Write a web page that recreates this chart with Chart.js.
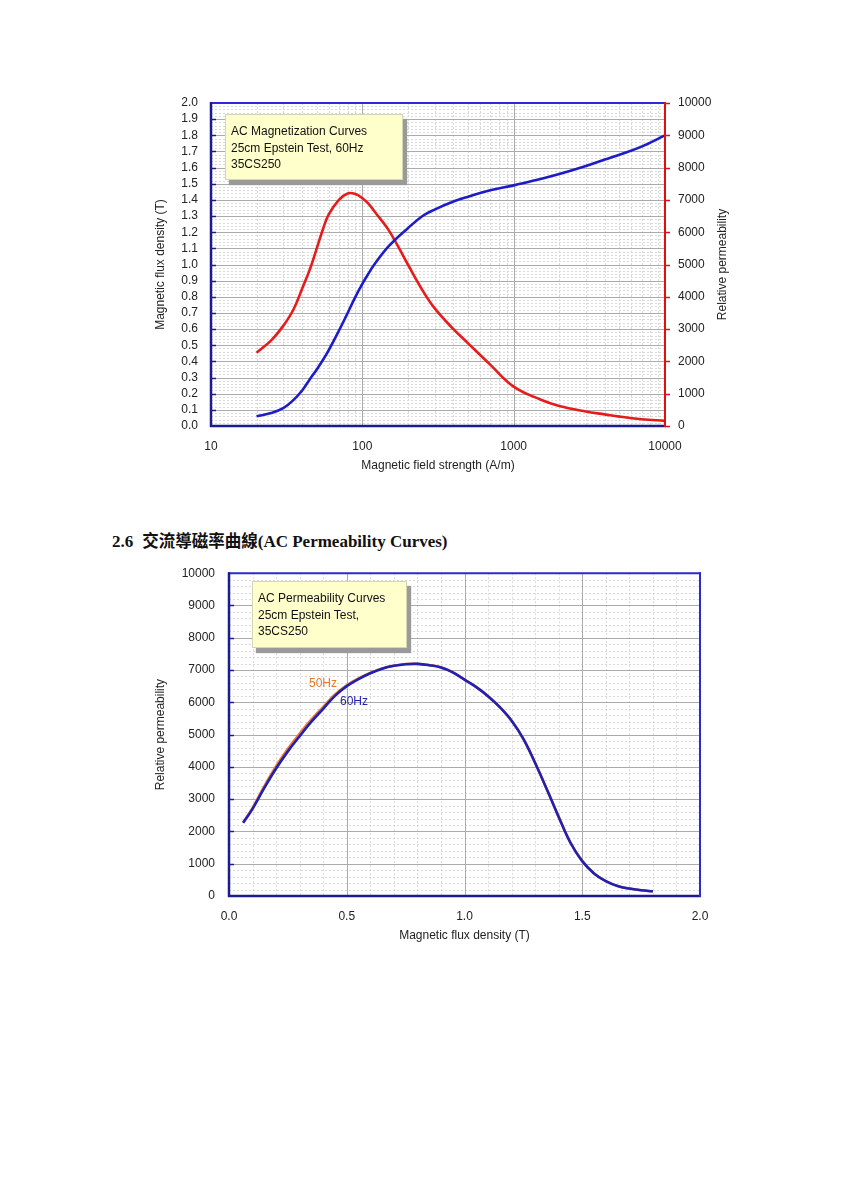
<!DOCTYPE html>
<html>
<head>
<meta charset="utf-8">
<script src="https://cdn.jsdelivr.net/npm/chart.js@4.4.1/dist/chart.umd.min.js"></script>
<style>
    body { margin: 0; background: #fff; width: 849px; height: 1200px; position: relative; overflow: hidden;
           font-family: "Liberation Sans", Arial, sans-serif; }
    canvas { position: absolute; }
    .note { position: absolute; background: #ffffcc; border: 1px solid #d6d6b4; box-shadow: 4px 5px 1px #9a9a9a;
            font-size: 12px; line-height: 16.5px; color: #111; padding: 8px 5px; box-sizing: border-box; }
    .tag { position: absolute; font-size: 12px; }
    .heading { position: absolute; left: 112px; top: 528px; font-size: 17px; font-weight: bold; color: #111;
               font-family: "Liberation Serif", "Times New Roman", serif; white-space: nowrap; }
    .heading .cjk { font-family: "Noto Sans CJK TC", sans-serif; margin-left: 9px; font-size: 16.5px; }
</style>
</head>
<body>
<canvas id="chartMag" width="620" height="400" style="left:140px; top:90px;"></canvas>
<div class="note" style="left:225px; top:114px; width:178px; height:66px;">AC Magnetization Curves<br>25cm Epstein Test, 60Hz<br>35CS250</div>

<div class="heading">2.6<span class="cjk">交流導磁率曲線</span>(AC Permeability Curves)</div>

<canvas id="chartPerm" width="620" height="400" style="left:140px; top:560px;"></canvas>
<div class="note" style="left:252px; top:581px; width:155px; height:67px;">AC Permeability Curves<br>25cm Epstein Test,<br>35CS250</div>
<div class="tag" style="left:309px; top:676px; color:#e8782c;">50Hz</div>
<div class="tag" style="left:340px; top:694px; color:#2424a8;">60Hz</div>

<script>
// --- AC magnetization curves (60Hz) ---
const fieldH = [20, 25, 30, 35, 40, 45, 50, 55, 60, 70, 80, 90, 100, 110, 120, 150, 200, 250, 300,
                400, 500, 700, 1000, 1500, 2000, 3000, 4000, 5000, 7000, 10000];
const fluxB = [0.06, 0.08, 0.11, 0.16, 0.22, 0.29, 0.35, 0.41, 0.47, 0.59, 0.70, 0.80, 0.88, 0.945, 1.00, 1.115, 1.225, 1.30, 1.34,
               1.39, 1.42, 1.46, 1.49, 1.53, 1.56, 1.61, 1.65, 1.68, 1.73, 1.80];
const permMu = [2270, 2650, 3100, 3600, 4250, 4850, 5500, 6100, 6550, 7000, 7200, 7180, 7050, 6880, 6650, 6050, 5000, 4200, 3650,
                3000, 2560, 1900, 1220, 820, 620, 450, 360, 290, 210, 160];

// --- AC permeability curves ---
const fluxAxis = [0.06, 0.10, 0.15, 0.20, 0.25, 0.30, 0.35, 0.40, 0.45, 0.50, 0.55, 0.60, 0.65, 0.70, 0.75, 0.80, 0.85, 0.90,
                  0.95, 1.00, 1.05, 1.10, 1.15, 1.20, 1.25, 1.30, 1.35, 1.40, 1.45, 1.50, 1.55, 1.60, 1.65, 1.70, 1.75, 1.80];
const perm60 = [2270, 2700, 3350, 3950, 4480, 4950, 5400, 5800, 6200, 6500, 6720, 6900, 7040, 7130, 7180, 7190, 7150, 7080,
                6930, 6700, 6470, 6190, 5850, 5430, 4870, 4120, 3300, 2450, 1650, 1080, 700, 460, 310, 230, 180, 145];
const perm50 = [2270, 2730, 3400, 4020, 4560, 5030, 5470, 5860, 6240, 6530, 6740, 6910, 7050, 7135, 7185, 7195, 7155, 7085,
                6935, 6705, 6475, 6190, 5850, 5430, 4870, 4120, 3300, 2450, 1650, 1080, 700, 460, 310, 230, 180, 145];

const decadeTicks = [10, 100, 1000, 10000];
const fontFamily = '"Liberation Sans", Arial, sans-serif';
const tickFont = { family: fontFamily, size: 12 };
const titleFont = { family: fontFamily, size: 12 };

function range(from, to, step) {
    const out = [];
    for (let i = 0; from + i * step <= to + step / 1000; i++) out.push(+(from + i * step).toFixed(6));
    return out;
}

// invisible tick marks keep the label gap without widening the top padding
const hiddenTicks = { display: true, drawOnChartArea: false, drawTicks: true, tickLength: 8, tickColor: 'rgba(0,0,0,0)' };

// grid, frame and side marks, drawn through the chart's own scales
const paperPlugin = {
    id: 'paper',
    beforeDatasetsDraw(chart, args, o) {
        const { ctx, chartArea: a, scales } = chart;
        const xs = scales.x, ys = scales[o.gridAxis];
        const vline = v => { const p = Math.round(xs.getPixelForValue(v)) + 0.5; ctx.beginPath(); ctx.moveTo(p, a.top); ctx.lineTo(p, a.bottom); ctx.stroke(); };
        const hline = v => { const p = Math.round(ys.getPixelForValue(v)) + 0.5; ctx.beginPath(); ctx.moveTo(a.left, p); ctx.lineTo(a.right, p); ctx.stroke(); };
        ctx.save();
        ctx.lineWidth = 1;
        ctx.strokeStyle = '#d9d9d9';
        ctx.setLineDash([2, 2]);
        o.xMinor.forEach(vline);
        o.yMinor.forEach(hline);
        ctx.setLineDash([]);
        ctx.strokeStyle = '#ababab';
        o.xMajor.forEach(vline);
        o.yMajor.forEach(hline);
        ctx.restore();
    },
    afterDatasetsDraw(chart, args, o) {
        const { ctx, chartArea: a, scales } = chart;
        const ys = scales[o.gridAxis];
        const seg = (x1, y1, x2, y2, c, w) => { ctx.strokeStyle = c; ctx.lineWidth = w; ctx.beginPath(); ctx.moveTo(x1, y1); ctx.lineTo(x2, y2); ctx.stroke(); };
        ctx.save();
        seg(a.left - 1, a.top, a.right + 1, a.top, o.topColor, 2);
        seg(a.left - 1, a.bottom, a.right + 1, a.bottom, o.bottomColor, 2.5);
        seg(a.left, a.top - 1, a.left, a.bottom + 1, o.leftColor, 2.5);
        seg(a.right, a.top - 1, a.right, a.bottom + 1, o.rightColor, 2);
        o.yMajor.forEach(v => {
            const p = Math.round(ys.getPixelForValue(v)) + 0.5;
            seg(a.left, p, a.left + 5, p, o.leftColor, 1.5);
        });
        if (o.rightTicks) {
            const rs = scales.y2;
            o.rightTicks.forEach(v => {
                const p = Math.round(rs.getPixelForValue(v)) + 0.5;
                seg(a.right, p, a.right + 5, p, o.rightColor, 1.5);
            });
        }
        if (o.rightTitle) {
            ctx.translate(a.right + 58, (a.top + a.bottom) / 2);
            ctx.rotate(-Math.PI / 2);
            ctx.font = '12px ' + fontFamily;
            ctx.fillStyle = '#222';
            ctx.textAlign = 'center';
            ctx.textBaseline = 'middle';
            ctx.fillText(o.rightTitle, 0, 0);
        }
        ctx.restore();
    }
};

const xMinorLog = [];
[10, 100, 1000].forEach(d => { for (let m = 2; m <= 9; m++) xMinorLog.push(d * m); });

const lineStyle = { borderWidth: 2.6, pointRadius: 0, tension: 0.4, clip: false };

new Chart(document.getElementById('chartMag'), {
    type: 'line',
    data: {
        datasets: [
            Object.assign({
                label: 'Magnetic flux density',
                data: fieldH.map((h, i) => ({ x: h, y: fluxB[i] })),
                yAxisID: 'y',
                borderColor: '#1c1cc8'
            }, lineStyle),
            Object.assign({
                label: 'Relative permeability',
                data: fieldH.map((h, i) => ({ x: h, y: permMu[i] })),
                yAxisID: 'y2',
                borderColor: '#e41c1c'
            }, lineStyle)
        ]
    },
    options: {
        responsive: false,
        animation: false,
        layout: { padding: { top: 13, left: 0, right: 0, bottom: 0 } },
        plugins: {
            legend: { display: false },
            tooltip: { enabled: false },
            paper: {
                gridAxis: 'y',
                xMajor: [100, 1000], xMinor: xMinorLog,
                yMajor: range(0.1, 1.9, 0.1), yMinor: range(0.02, 1.98, 0.02),
                topColor: '#2a2ae0', bottomColor: '#1c1c90', leftColor: '#1c1c90', rightColor: '#e01010',
                rightTicks: range(0, 10000, 1000),
                rightTitle: 'Relative permeability'
            }
        },
        scales: {
            x: {
                type: 'logarithmic',
                min: 10, max: 10000,
                afterBuildTicks: s => { s.ticks = decadeTicks.map(v => ({ value: v })); },
                afterFit: s => { s.height = 64; },
                grid: hiddenTicks,
                border: { display: false },
                ticks: { font: tickFont, color: '#222', padding: 5, maxRotation: 0, autoSkip: false, callback: v => String(v) },
                title: { display: true, text: 'Magnetic field strength (A/m)', font: titleFont, color: '#222', padding: { bottom: 17 } }
            },
            y: {
                position: 'left',
                min: 0, max: 2.0,
                afterFit: s => { s.width = 71; },
                grid: hiddenTicks,
                border: { display: false },
                ticks: { stepSize: 0.1, autoSkip: false, font: tickFont, color: '#222', padding: 5, callback: v => v.toFixed(1) },
                title: { display: true, text: 'Magnetic flux density (T)', font: titleFont, color: '#222', padding: { top: 13 } }
            },
            y2: {
                position: 'right',
                min: 0, max: 10000,
                afterFit: s => { s.width = 95; },
                grid: hiddenTicks,
                border: { display: false },
                ticks: { stepSize: 1000, autoSkip: false, font: tickFont, color: '#222', padding: 5, callback: v => String(v) }
            }
        }
    },
    plugins: [paperPlugin]
});

new Chart(document.getElementById('chartPerm'), {
    type: 'line',
    data: {
        datasets: [
            Object.assign({
                label: '50Hz',
                data: fluxAxis.map((b, i) => ({ x: b, y: perm50[i] })),
                borderColor: '#ec7a30',
                order: 2
            }, lineStyle),
            Object.assign({
                label: '60Hz',
                data: fluxAxis.map((b, i) => ({ x: b, y: perm60[i] })),
                borderColor: '#2020b4',
                order: 1
            }, lineStyle)
        ]
    },
    options: {
        responsive: false,
        animation: false,
        layout: { padding: { top: 13, left: 0, right: 60, bottom: 0 } },
        plugins: {
            legend: { display: false },
            tooltip: { enabled: false },
            paper: {
                gridAxis: 'y',
                xMajor: [0.5, 1.0, 1.5], xMinor: range(0.1, 1.9, 0.1),
                yMajor: range(1000, 9000, 1000), yMinor: range(200, 9800, 200),
                topColor: '#2a2ad0', bottomColor: '#1c1c90', leftColor: '#1c1c90', rightColor: '#2a2ad0'
            }
        },
        scales: {
            x: {
                type: 'linear',
                min: 0, max: 2.0,
                afterFit: s => { s.height = 64; },
                grid: hiddenTicks,
                border: { display: false },
                ticks: { stepSize: 0.5, autoSkip: false, font: tickFont, color: '#222', padding: 5, maxRotation: 0, callback: v => v.toFixed(1) },
                title: { display: true, text: 'Magnetic flux density (T)', font: titleFont, color: '#222', padding: { bottom: 17 } }
            },
            y: {
                position: 'left',
                min: 0, max: 10000,
                afterFit: s => { s.width = 89; },
                grid: hiddenTicks,
                border: { display: false },
                ticks: { stepSize: 1000, autoSkip: false, font: tickFont, color: '#222', padding: 6, callback: v => String(v) },
                title: { display: true, text: 'Relative permeability', font: titleFont, color: '#222', padding: { top: 13 } }
            }
        }
    },
    plugins: [paperPlugin]
});
</script>
</body>
</html>
